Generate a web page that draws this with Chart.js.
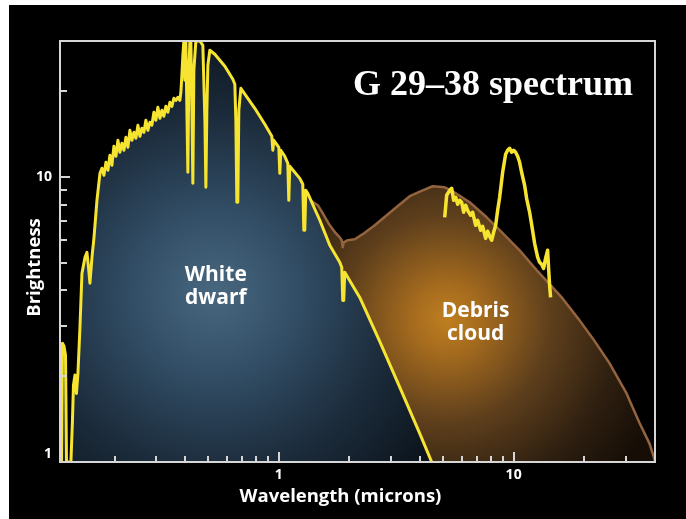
<!DOCTYPE html>
<html>
<head>
<meta charset="utf-8">
<script src="https://cdn.jsdelivr.net/npm/chart.js@4.4.1/dist/chart.umd.min.js"></script>
<style>
  html, body { margin: 0; padding: 0; background: #ffffff; }
  #panel { position: absolute; left: 9px; top: 5px; width: 677px; height: 514px; background: #000; }
  canvas { display: block; }
</style>
</head>
<body>
<div id="panel"><canvas id="spectrum" width="677" height="514"></canvas></div>
<script>
// White dwarf spectrum (UV through near-IR), wavelength in microns
const wdWavelength = [
  0.117, 0.1187, 0.1199, 0.1217, 0.1235, 0.1247, 0.1302, 0.1322, 0.1335, 0.1355, 0.1375, 0.1395, 0.1423, 0.1451, 0.1495, 0.1524, 0.1547, 0.1569, 0.1601, 0.1633, 0.1681,
  0.1731, 0.1765, 0.1800, 0.1836, 0.1872, 0.1909, 0.1947, 0.1985, 0.2025, 0.2065, 0.2105, 0.2147, 0.2190, 0.2233, 0.2277, 0.2322, 0.2368, 0.2415, 0.2463, 0.2512,
  0.2561, 0.2612, 0.2664, 0.2716, 0.2770, 0.2825, 0.2880, 0.2938, 0.2996, 0.3055, 0.3116, 0.3178, 0.3240, 0.3304, 0.3370, 0.3437, 0.3505, 0.3574, 0.3645, 0.3717,
  0.3790, 0.3828,
  0.3865, 0.3903, 0.3941, 0.3981, 0.4020, 0.4060, 0.4100, 0.4140, 0.4181, 0.4222, 0.4264, 0.4305, 0.4348, 0.4434, 0.4611, 0.4748, 0.4844, 0.4891, 0.4939, 0.4987,
  0.5085, 0.5341, 0.5891, 0.6372, 0.6498, 0.6562, 0.6626, 0.6691, 0.6757, 0.6891, 0.7903, 0.8717, 0.9338, 0.9429, 0.9522, 1.0, 1.0099, 1.0198, 1.0605, 1.0921,
  1.1029, 1.1137, 1.2284, 1.2651, 1.2776, 1.2902, 1.3029, 1.3287, 1.4946, 1.6483, 1.8176, 1.8536, 1.8718, 1.8903, 1.9089, 2.2115, 2.6897, 3.2726, 3.981, 4.478
];
const wdBrightness = [
  1, 1, 2.61, 2.55, 2.37, 1, 1, 1.40, 1.86, 2.02, 1.74, 2.05, 2.97, 4.59, 5.23, 5.44, 4.82, 4.24, 5.23, 6.14, 8.28,
  10.30, 10.73, 10.14, 11.26, 10.56, 11.92, 10.99, 12.82, 11.82, 13.45, 12.21, 13.13, 12.41, 13.78, 12.71, 14.58, 13.45, 14.35, 13.67, 15.19,
  13.89, 14.83, 14.35, 15.81, 14.58, 15.56, 15.19, 16.87, 15.81, 17.56, 16.07, 17.14, 16.33, 17.70, 16.87, 18.28, 17.70, 18.89, 18.58, 19.04,
  18.58, 19.83,
  22.74, 26.73, 30, 21.84, 30, 17.14, 10.39, 23.69, 30, 30, 17.14, 9.50, 23.69, 30, 30, 28.98, 15.81, 9.20, 17.14, 24.66,
  27.84, 26.95, 24.46, 22.02, 21.15, 15.81, 8.15, 8.15, 17.14, 20.47, 17.42, 15.31, 13.89, 12.41, 13.45, 12.71, 10.30, 12.41, 11.82, 11.17,
  8.28, 10.90, 9.89, 9.43, 6.50, 6.50, 8.98, 8.76, 7.05, 5.76, 5.02, 4.82, 3.69, 3.69, 4.63, 3.78, 2.65, 1.83, 1.26, 1
];

// Mid-infrared spectrum
const irWavelength = [
  5.087, 5.187, 5.342, 5.448, 5.555, 5.665, 5.777, 5.891, 6.007, 6.126,
  6.247, 6.371, 6.561, 6.691, 6.891, 7.028, 7.237, 7.381, 7.603, 7.753,
  7.906, 8.063, 8.222, 8.385, 8.551, 8.720, 8.980, 9.246, 9.430, 9.616,
  9.806, 10.0, 10.198, 10.400, 10.605, 10.815, 11.138, 11.358, 11.697, 11.929,
  12.285, 12.652, 12.902, 13.157, 13.418, 13.683, 13.954, 14.091, 14.230, 14.370
];
const irBrightness = [
  7.22, 8.63, 8.98, 9.13, 8.28, 8.49, 8.02, 8.28, 8.15, 7.52,
  7.96, 7.64, 7.34, 7.52, 6.77, 7.05, 6.50, 6.71, 6.09, 6.45,
  6.19, 6.00, 6.40, 6.77, 7.64, 8.49, 10.39, 12.01, 12.41, 12.61,
  12.21, 12.41, 12.21, 11.82, 11.26, 10.39, 9.35, 8.42, 7.52, 6.82,
  5.85, 5.23, 5.02, 4.94, 4.78, 5.19, 5.53, 4.78, 4.17, 3.78
];

// Star + dust disk model
const modelWavelength = [
  1.3817, 1.4656, 1.5390, 1.6483, 1.7478, 1.8176, 1.8536, 1.8718, 1.8903, 1.9661,
  2.1060, 2.2777, 2.5617, 3.0557, 3.6098, 4.1013, 4.5223, 5.087, 5.501, 6.497,
  7.677, 8.980, 10.605, 12.528, 14.654, 16.161, 19.093, 21.688, 25.617, 30.26,
  34.37, 37.91, 40
];
const modelBrightness = [
  8.22, 7.96, 7.46, 6.77, 6.35, 6.14, 6.00, 5.67, 5.90, 6.00,
  6.05, 6.30, 6.77, 7.64, 8.56, 8.98, 9.28, 9.20, 8.91, 8.15,
  7.22, 6.35, 5.53, 4.71, 4.10, 3.75, 3.14, 2.72, 2.22, 1.74,
  1.37, 1.16, 1.01
];

// Axis ranges and tick positions
const xRange = [0.117, 40];
const yRange = [1, 30];
const xTickValues = [0.2, 0.3, 0.4, 0.5, 0.6, 0.7, 0.8, 0.9, 1, 2, 3, 4, 5, 6, 7, 8, 9, 10, 20, 30];
const yTickValues = [1, 2, 3, 4, 5, 6, 7, 8, 9, 10, 20];
const xLabelled = [1, 10];
const yLabelled = [1, 10];

const titleText = 'G 29–38 spectrum';
const xTitle = 'Wavelength (microns)';
const yTitle = 'Brightness';
const wdLabel = ['White', 'dwarf'];
const dustLabel = ['Debris', 'cloud'];

const AXIS = '#d6d6d6';
const YELLOW = '#f6e431';
const BROWN = '#94643f';
const SANS = '"Open Sans", "DejaVu Sans", sans-serif';

const pts = (xs, ys) => xs.map((v, i) => ({ x: v, y: ys[i] }));

function radial(chart, fx, fy, r, stops) {
  const a = chart.chartArea;
  if (!a) return 'transparent';
  const cx = a.left + a.width * fx, cy = a.top + a.height * fy;
  const g = chart.ctx.createRadialGradient(cx, cy, 0, cx, cy, r);
  stops.forEach(([o, c]) => g.addColorStop(o, c));
  return g;
}

const decor = {
  id: 'decor',
  afterDatasetsDraw(chart) {
    const { ctx, chartArea: a, scales: { x, y } } = chart;
    ctx.save();
    ctx.strokeStyle = AXIS;
    ctx.lineWidth = 2;
    ctx.beginPath();
    xTickValues.forEach(v => {
      const px = Math.round(x.getPixelForValue(v));
      const len = xLabelled.includes(v) ? 10 : 6;
      ctx.moveTo(px, a.bottom);
      ctx.lineTo(px, a.bottom - len);
    });
    yTickValues.forEach(v => {
      const py = Math.round(y.getPixelForValue(v));
      const len = yLabelled.includes(v) ? 10 : 7;
      ctx.moveTo(a.left, py);
      ctx.lineTo(a.left + len, py);
    });
    ctx.stroke();
    ctx.strokeRect(a.left, a.top, a.width, a.height);

    ctx.fillStyle = '#ffffff';
    // chart title
    ctx.font = 'bold 36px "Liberation Serif", "DejaVu Serif", serif';
    ctx.textAlign = 'center';
    ctx.textBaseline = 'alphabetic';
    ctx.fillText(titleText, a.right - 162, a.top + 54);

    // region labels, anchored in data space
    ctx.font = 'bold 21px ' + SANS;
    const drawLabel = (lines, lam, b) => {
      const px = x.getPixelForValue(lam), py = y.getPixelForValue(b);
      lines.forEach((t, i) => ctx.fillText(t, px, py + i * 23));
    };
    drawLabel(wdLabel, 0.539, 4.31);
    drawLabel(dustLabel, 6.89, 3.22);

    // axis titles
    ctx.font = 'bold 18.5px ' + SANS;
    ctx.fillText(xTitle, (a.left + a.right) / 2 - 17, a.bottom + 40);
    ctx.translate(a.left - 25, (a.top + a.bottom) / 2 + 16);
    ctx.rotate(-Math.PI / 2);
    ctx.textBaseline = 'middle';
    ctx.fillText(yTitle, 0, 0);
    ctx.restore();
  }
};

new Chart(document.getElementById('spectrum'), {
  type: 'line',
  data: {
    datasets: [
      {
        label: 'Mid-IR spectrum',
        data: pts(irWavelength, irBrightness),
        borderColor: YELLOW,
        borderWidth: 3.5,
        fill: false,
        order: 1
      },
      {
        label: 'White dwarf',
        data: pts(wdWavelength, wdBrightness),
        borderColor: YELLOW,
        borderWidth: 3,
        fill: 'start',
        backgroundColor: c => radial(c.chart, 0.26, 0.60, 270, [
          [0, '#48687f'], [0.3, '#324e66'], [0.65, '#1c2c3c'], [1, '#0b131b']
        ]),
        order: 2
      },
      {
        label: 'Debris cloud',
        data: pts(modelWavelength, modelBrightness),
        borderColor: BROWN,
        borderWidth: 2.5,
        fill: 'start',
        backgroundColor: c => radial(c.chart, 0.65, 0.66, 230, [
          [0, '#bf7f20'], [0.15, '#a56b1e'], [0.45, '#5e3f1c'], [0.75, '#2e1f10'], [1, '#150d06']
        ]),
        order: 3
      }
    ]
  },
  options: {
    responsive: false,
    devicePixelRatio: 1,
    animation: false,
    events: [],
    elements: { point: { radius: 0 }, line: { tension: 0, borderJoinStyle: 'round' } },
    layout: { padding: { left: 0, top: 36, right: 31, bottom: 0 } },
    plugins: { legend: { display: false }, tooltip: { enabled: false } },
    scales: {
      x: {
        type: 'logarithmic',
        min: xRange[0],
        max: xRange[1],
        grid: { display: false, drawTicks: false },
        border: { display: false },
        afterBuildTicks: s => { s.ticks = xTickValues.map(v => ({ value: v })); },
        afterFit: s => { s.height = 57; },
        ticks: {
          autoSkip: false,
          maxRotation: 0,
          color: '#ffffff',
          padding: 5,
          font: { family: SANS, weight: 'bold', size: 14 },
          callback: v => (xLabelled.includes(v) ? String(v) : '')
        }
      },
      y: {
        type: 'logarithmic',
        min: yRange[0],
        max: yRange[1],
        grid: { display: false, drawTicks: false },
        border: { display: false },
        afterBuildTicks: s => { s.ticks = yTickValues.map(v => ({ value: v })); },
        afterFit: s => { s.width = 51; },
        ticks: {
          autoSkip: false,
          color: '#ffffff',
          padding: 8,
          font: { family: SANS, weight: 'bold', size: 14 },
          callback: v => (v === 1 ? ['1', ''] : yLabelled.includes(v) ? String(v) : '')
        }
      }
    }
  },
  plugins: [decor]
});
</script>
</body>
</html>
